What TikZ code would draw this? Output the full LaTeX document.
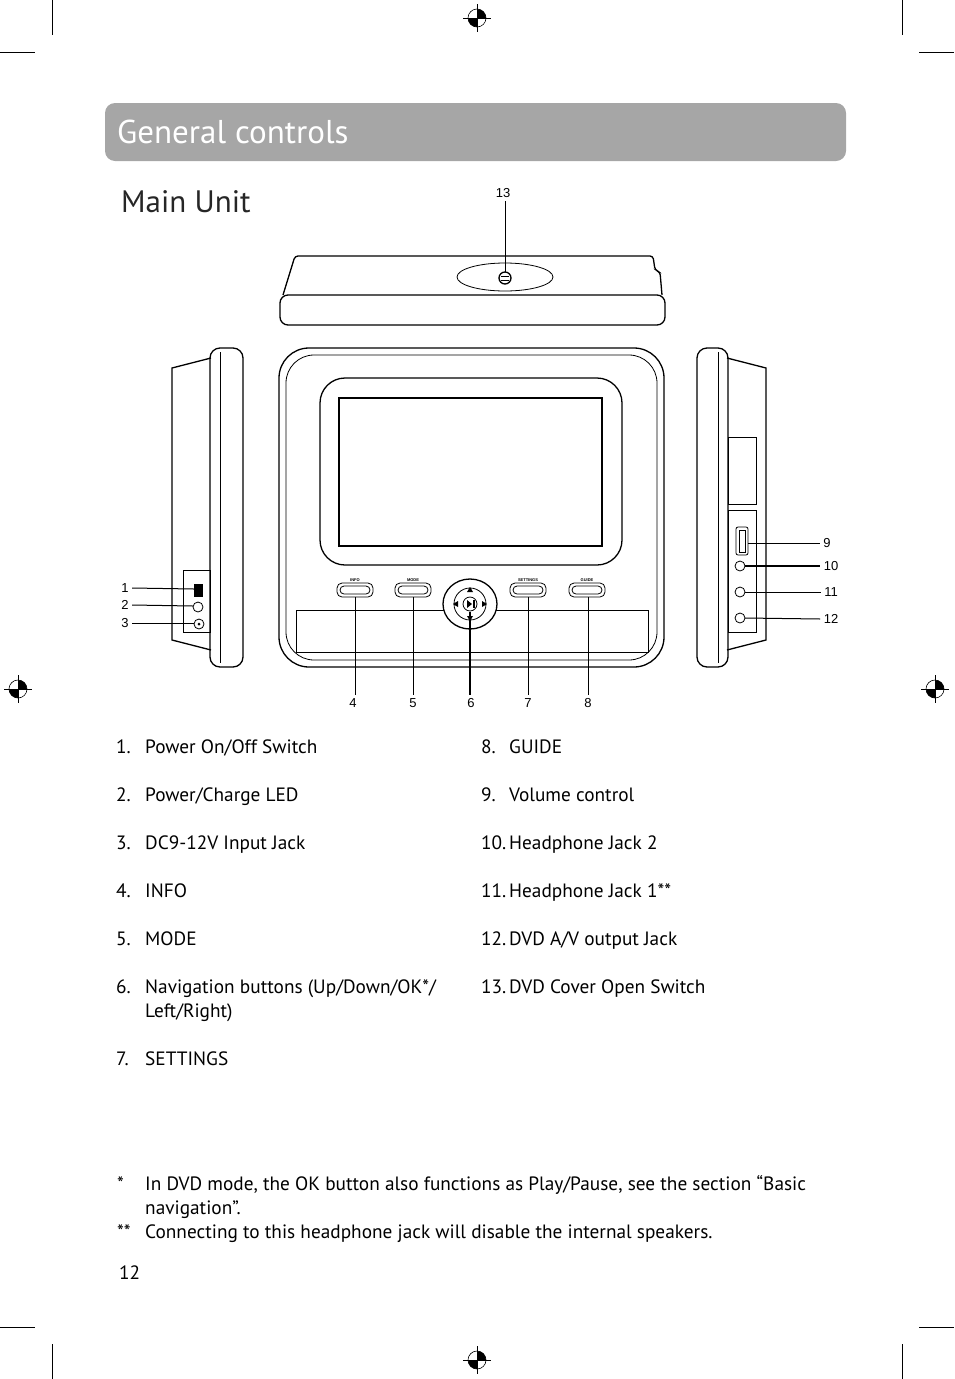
\documentclass[tikz,border=0pt]{standalone}
\usepackage{fontspec}
\setmainfont{PT Sans}
\newfontfamily\calloutfont{Liberation Sans}
\usetikzlibrary{positioning}
\tikzset{
  part/.style={line width=1.3pt},
  thin part/.style={line width=.8pt},
  leader/.style={line width=1pt},
  callout/.style={font=\fontsize{13}{14}\selectfont\calloutfont},
  item/.style={anchor=base west,inner sep=0pt,font=\fontsize{19.3}{24}\selectfont},
  crop/.style={line width=.6pt}
}
\newcommand{\regmark}[1]{%
  \draw[crop] (#1) circle (9);
  \fill (#1) ++(0,-9) arc (-90:0:9) -- (#1) -- cycle;
  \fill (#1) ++(0,9) arc (90:180:9) -- (#1) -- cycle;
  \draw[crop] (#1) ++(-14,0) -- ++(28,0) (#1) ++(0,-14) -- ++(0,28);}
\newcommand{\btn}[2]{%
  \draw[thin part,rounded corners=5] (#1-18,#2-7) rectangle (#1+18,#2+7);
  \draw[thin part,rounded corners=4] (#1-15,#2-4) rectangle (#1+15,#2+4);}
\begin{document}
\begin{tikzpicture}[x=1pt,y=-1pt]
  \useasboundingbox (0,0) rectangle (954,1379);
  % crop marks
  \foreach \x in {52,902} {
    \draw[crop] (\x,0) -- (\x,35);
    \draw[crop] (\x,1344) -- (\x,1379);}
  \foreach \y in {52,1327} {
    \draw[crop] (0,\y) -- (35,\y);
    \draw[crop] (919,\y) -- (954,\y);}
  \regmark{477,18}
  \regmark{477,1360}
  \regmark{18,689}
  \regmark{935,689}

  % title bar
  \fill[black!35,rounded corners=10] (105,103) rectangle (846,161);
  \node[anchor=base west,inner sep=0pt,text=white,font=\fontsize{33}{36}\selectfont] (title) at (117,143) {General controls};
  \node[anchor=base west,inner sep=0pt,text=black!85,font=\fontsize{31}{34}\selectfont] (mainunit) at (121,212) {Main Unit};

  % top view
  \draw[part,rounded corners=3] (283,295) -- (295,256) -- (653,256) -- (655,270) -- (660,272) -- (662,295);
  \draw[part,rounded corners=8] (280,295) rectangle (665,325);
  \draw[thin part] (505,277) ellipse (48 and 14);
  \draw[part] (505,278) circle (6);
  \draw[thin part] (501,276) -- (509,276) (501,280) -- (509,280);
  \coordinate (covsw) at (505,272);
  \node[callout] (n13) at (503,193) {13};
  \draw[leader] (covsw) -- (covsw |- n13.south);

  % front view
  \draw[part,rounded corners=30] (279,348) rectangle (664,667);
  \draw[thin part,rounded corners=28] (286,355) rectangle (657,660);
  \draw[part,rounded corners=25] (320,378) rectangle (622,565);
  \draw[part] (339,398) rectangle (602,546);
  \draw[thin part] (296,610) rectangle (648,652);
  \draw[part,fill=white] (470,604) ellipse (27 and 25);
  \draw[thin part] (470,604) circle (16);
  \draw[thin part] (470,604) circle (7);
  \fill (467,600) -- (467,608) -- (472,604) -- cycle;
  \fill (473,600) rectangle (475,608);
  \fill (470,587) -- (467,592) -- (473,592) -- cycle;
  \fill (470,621) -- (467,616) -- (473,616) -- cycle;
  \fill (453,604) -- (458,601) -- (458,607) -- cycle;
  \fill (487,604) -- (482,601) -- (482,607) -- cycle;
  \foreach \bx/\bl in {355/INFO,413/MODE,528/SETTINGS,587/GUIDE} {
    \btn{\bx}{590}
    \node[font=\fontsize{4}{5}\selectfont\calloutfont\bfseries] at (\bx,580) {\bl};}
  \coordinate (info) at (355,597);
  \coordinate (mode) at (413,597);
  \coordinate (nav) at (470,612);
  \coordinate (settings) at (528,597);
  \coordinate (guide) at (588,597);
  \node[callout] (n4) at (353,703) {4};
  \node[callout] (n5) at (413,703) {5};
  \node[callout] (n6) at (471,703) {6};
  \node[callout] (n7) at (528,703) {7};
  \node[callout] (n8) at (588,703) {8};
  \draw[leader] (info) -- (info |- n4.north);
  \draw[leader] (mode) -- (mode |- n5.north);
  \draw[leader,line width=1.5pt] (nav) -- (nav |- n6.north);
  \draw[leader] (settings) -- (settings |- n7.north);
  \draw[leader] (guide) -- (guide |- n8.north);

  % left side view
  \draw[part,rounded corners=10] (210,348) rectangle (243,667);
  \draw[thin part] (220,352) -- (220,663);
  \draw[part] (211,358) -- (172,368) -- (172,640) -- (211,650);
  \draw[thin part] (183,570) rectangle (210,632);
  \draw[thin part,fill=black] (194,584) rectangle (202,596);
  \draw[thin part] (198,607) circle (5);
  \draw[thin part] (199,624) circle (5);
  \fill (199,624) circle (1.5);
  \coordinate (pwr) at (194,589);
  \coordinate (led) at (193,606);
  \coordinate (dcin) at (194,623);
  \node[callout] (n1) at (125,588) {1};
  \node[callout] (n2) at (125,605) {2};
  \node[callout] (n3) at (125,623) {3};
  \draw[leader] (n1.east) -- (pwr);
  \draw[leader] (n2.east) -- (led);
  \draw[leader] (n3.east) -- (dcin);

  % right side view
  \draw[part,rounded corners=10] (697,348) rectangle (728,667);
  \draw[thin part] (718,352) -- (718,663);
  \draw[part] (727,358) -- (766,368) -- (766,640) -- (727,650);
  \draw[thin part] (728,437) rectangle (756,504);
  \draw[thin part] (728,510) rectangle (756,632);
  \draw[thin part,rounded corners=2] (736,527) rectangle (748,555);
  \draw[thin part] (739,530) rectangle (745,552);
  \draw[thin part] (740,566) circle (5);
  \draw[thin part] (740,592) circle (5);
  \draw[thin part] (740,618) circle (5);
  \coordinate (vol) at (748,543);
  \coordinate (hp2) at (745,566);
  \coordinate (hp1) at (745,592);
  \coordinate (avout) at (745,618);
  \node[callout] (n9) at (827,543) {9};
  \node[callout] (n10) at (831,566) {10};
  \node[callout] (n11) at (831,592) {11};
  \node[callout] (n12) at (831,619) {12};
  \draw[leader] (vol) -- (n9.west);
  \draw[leader,line width=1.5pt] (hp2) -- (n10.west);
  \draw[leader] (hp1) -- (n11.west);
  \draw[leader] (avout) -- (n12.west);

  % parts list
  \foreach \n/\y/\t in {1/753/{Power On/Off Switch},2/801/{Power/Charge LED},3/849/{DC9-12V Input Jack},4/897/INFO,5/945/MODE,7/1065/SETTINGS} {
    \node[item] at (116,\y) {\n.};
    \node[item] at (145,\y) {\t};}
  \node[item] (n6num) at (116,993) {6.};
  \node[item] (n6txt) at (145,993) {Navigation buttons (Up/Down/OK*/};
  \node[item] (n6txt2) at (145,1017) {Left/Right)};
  \foreach \n/\y/\t in {8/753/GUIDE,9/801/{Volume control},10/849/{Headphone Jack 2},11/897/{Headphone Jack 1**},12/945/{DVD A/V output Jack},13/993/{DVD Cover Open Switch}} {
    \node[item] at (481,\y) {\n.};
    \node[item] at (509,\y) {\t};}

  % footnotes
  \node[item] (f1) at (117,1190) {*};
  \node[item] (f1t) at (145,1190) {In DVD mode, the OK button also functions as Play/Pause, see the section “Basic};
  \node[item] (f1t2) at (145,1214) {navigation”.};
  \node[item] (f2) at (117,1238) {**};
  \node[item] (f2t) at (145,1238) {Connecting to this headphone jack will disable the internal speakers.};
  \node[item] (page) at (119,1279) {12};
\end{tikzpicture}
\end{document}
